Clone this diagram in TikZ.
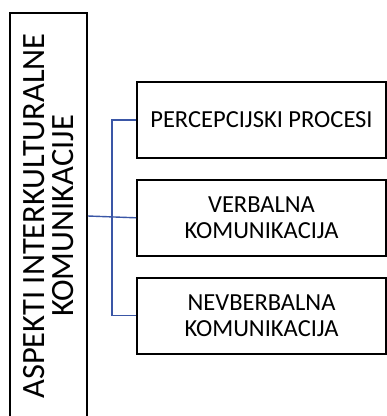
\documentclass[tikz,border=0pt]{standalone}
\usepackage{fontspec}
\setmainfont{Carlito}
\usetikzlibrary{positioning,calc}
\definecolor{linkBlue}{RGB}{58,86,166}

\begin{document}
\begin{tikzpicture}[
  x=1pt,y=-1pt,
  aspect/.style={rectangle,draw=black,line width=1.8pt,fill=white,inner sep=0pt,
                 minimum width=249pt,minimum height=76pt,align=center,
                 font=\fontsize{24.5}{25.5}\selectfont},
  mainbox/.style={rectangle,draw=black,line width=1.8pt,fill=white,inner sep=0pt,
                  minimum width=406pt,minimum height=77pt,align=center,rotate=90,
                  font=\fontsize{32.5}{28.5}\selectfont},
  link/.style={draw=linkBlue,line width=1.4pt}
]
  \useasboundingbox (0,0) rectangle (387,416);
  \node[mainbox](kom) at (48.5,216)
    {ASPEKTI INTERKULTURALNE\\KOMUNIKACIJE};
\node[aspect](perc) at (261.5,120) {PERCEPCIJSKI PROCESI};
\node[aspect,below=20pt of perc](verb) {VERBALNA\\KOMUNIKACIJA};
\node[aspect,below=20pt of verb](nverb) {NEVBERBALNA\\KOMUNIKACIJA};
\coordinate (fork) at ($(kom.south)!0.5!(verb.west)$);
  \draw[link](kom.south)--(verb.west);
  \draw[link](perc.west)-|(fork)|-(nverb.west);
\end{tikzpicture}
\end{document}
